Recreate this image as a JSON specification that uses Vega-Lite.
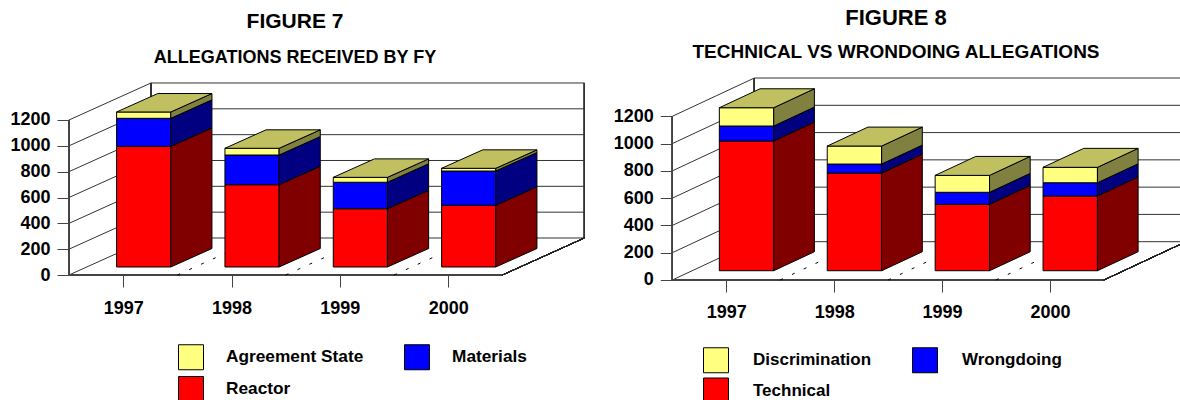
{"$schema":"https://vega.github.io/schema/vega-lite/v6.json","padding":0,"background":"white","spacing":0,"config":{"view":{"stroke":null},"font":"Liberation Sans"},"resolve":{"scale":{"color":"independent","fill":"independent"},"legend":{"color":"independent","fill":"independent"}},"hconcat":[
{"width":590,"height":400,
"title":{"text":"FIGURE 7","subtitle":"ALLEGATIONS RECEIVED BY FY","anchor":"middle","frame":"group","font":"Liberation Sans","fontSize":21,"fontWeight":"bold","subtitleFont":"Liberation Sans","subtitleFontSize":18,"subtitleFontWeight":"bold","subtitleColor":"#000","subtitlePadding":17,"offset":-67,"color":"#000"},
"data":{"values":[
{"year":"1997","series":"Reactor","value":934},{"year":"1997","series":"Materials","value":217},{"year":"1997","series":"Agreement State","value":49},
{"year":"1998","series":"Reactor","value":637},{"year":"1998","series":"Materials","value":230},{"year":"1998","series":"Agreement State","value":52},
{"year":"1999","series":"Reactor","value":451},{"year":"1999","series":"Materials","value":205},{"year":"1999","series":"Agreement State","value":38},
{"year":"2000","series":"Reactor","value":478},{"year":"2000","series":"Materials","value":265},{"year":"2000","series":"Agreement State","value":21}]},
"transform":[
{"calculate":"indexof(['Reactor','Materials','Agreement State'],datum.series)","as":"ord"},
{"stack":"value","groupby":["year"],"sort":[{"field":"ord","order":"ascending"}],"as":["lo","hi"]},
{"calculate":"toNumber(datum.year)-1997+0.4393","as":"x0"},
{"calculate":"datum.x0+0.5","as":"x1"},
{"calculate":"datum.lo+62","as":"ylo"},
{"calculate":"datum.hi+62","as":"yhi"}],
"layer":[
{"data":{"values":[{"v":0},{"v":200},{"v":400},{"v":600},{"v":800},{"v":1000},{"v":1200}]},
"transform":[{"calculate":"datum.v+286.5","as":"vb"},{"calculate":"0","as":"a"},{"calculate":"0.757","as":"b"}],
"mark":{"type":"rule","stroke":"#333","strokeWidth":1},
"encoding":{"x":{"field":"a","type":"quantitative","scale":{"domain":[-0.637,4.809],"nice":false,"zero":false},
"axis":{"title":null,"values":[0.5,1.5,2.5,3.5],"labelExpr":"format(datum.value+1996.5,'d')","domain":false,"grid":false,"offset":-125,"tickSize":12,"tickColor":"#444","labelPadding":12,"labelFont":"Liberation Sans","labelFontSize":18,"labelFontWeight":"bold","labelColor":"#000","labelFlush":false,"labelOverlap":false}},
"x2":{"field":"b"},
"y":{"field":"v","type":"quantitative","scale":{"domain":[-967.7,2129],"nice":false,"zero":false},
"axis":{"title":null,"values":[0,200,400,600,800,1000,1200],"format":"d","domain":false,"grid":false,"offset":-69,"tickSize":12,"tickColor":"#444","labelPadding":7,"labelFont":"Liberation Sans","labelFontSize":18,"labelFontWeight":"bold","labelColor":"#000","labelOverlap":false}},
"y2":{"field":"vb"}}},
{"data":{"values":[{"v":0},{"v":200},{"v":400},{"v":600},{"v":800},{"v":1000},{"v":1200}]},
"transform":[{"calculate":"datum.v+286.5","as":"vb"},{"calculate":"0.757","as":"a"},{"calculate":"4.757","as":"b"}],
"mark":{"type":"rule","stroke":"#333","strokeWidth":1},
"encoding":{"x":{"field":"a","type":"quantitative"},"x2":{"field":"b"},"y":{"field":"vb","type":"quantitative"}}},
{"mark":{"type":"rule","stroke":"#444","strokeWidth":1},"encoding":{"x":{"datum":0},"y":{"datum":0},"y2":{"datum":1200}}},
{"mark":{"type":"rule","stroke":"#333","strokeWidth":1},"encoding":{"x":{"datum":0.757},"y":{"datum":286.5},"y2":{"datum":1486.5}}},
{"mark":{"type":"rule","stroke":"#333","strokeWidth":1},"encoding":{"x":{"datum":4.757},"y":{"datum":286.5},"y2":{"datum":1486.5}}},
{"mark":{"type":"rule","stroke":"#444","strokeWidth":1},"encoding":{"x":{"datum":0},"x2":{"datum":4},"y":{"datum":0}}},
{"mark":{"type":"rule","stroke":"#222","strokeWidth":1},"encoding":{"x":{"datum":4},"x2":{"datum":4.757},"y":{"datum":0},"y2":{"datum":286.5}}},
{"data":{"values":[{"k":1},{"k":2},{"k":3}]},"transform":[{"calculate":"datum.k+0.757","as":"b"},{"calculate":"0","as":"v0"},{"calculate":"286.5","as":"v1"}],
"mark":{"type":"rule","stroke":"#000","strokeWidth":1,"strokeDash":[3,10]},
"encoding":{"x":{"field":"k","type":"quantitative"},"x2":{"field":"b"},"y":{"field":"v0","type":"quantitative"},"y2":{"field":"v1"}}},
{"mark":{"type":"rect","stroke":"#000","strokeWidth":1},
"encoding":{"x":{"field":"x0","type":"quantitative"},"x2":{"field":"x1"},"y":{"field":"ylo","type":"quantitative"},"y2":{"field":"yhi"},
"color":{"field":"series","type":"nominal","scale":{"domain":["Agreement State","Reactor","Materials"],"range":["#FFFF80","#FF0000","#0000FF"]},
"legend":{"orient":"none","legendX":178,"legendY":344,"columns":2,"title":null,"padding":0,"symbolType":"square","symbolSize":625,"symbolStrokeColor":"#000","symbolStrokeWidth":1,"labelFont":"Liberation Sans","labelFontSize":17.3,"labelFontWeight":"bold","labelColor":"#000","labelOffset":22,"columnPadding":38,"rowPadding":2,"labelLimit":0}}}},
{"transform":[{"calculate":"0","as":"t0"},{"calculate":"1","as":"t1"},{"fold":["t0","t1"],"as":["k","t"]},{"calculate":"datum.x1+datum.t*0.38","as":"xs"},{"calculate":"datum.ylo+datum.t*143","as":"s0"},{"calculate":"datum.yhi+datum.t*143","as":"s1"}],
"mark":{"type":"area","orient":"vertical","stroke":"#000","strokeWidth":1,"opacity":1},
"encoding":{"x":{"field":"xs","type":"quantitative"},"y":{"field":"s0","type":"quantitative","stack":null},"y2":{"field":"s1"},"detail":[{"field":"year"},{"field":"series"}],
"fill":{"field":"series","type":"nominal","legend":null,"scale":{"domain":["Agreement State","Materials","Reactor"],"range":["#808040","#000080","#800000"]}}}},
{"transform":[{"filter":"datum.ord==2"},{"calculate":"0","as":"t0"},{"calculate":"1","as":"t1"},{"fold":["t0","t1"],"as":["k","t"]},{"calculate":"datum.x0+datum.t*0.38","as":"ta"},{"calculate":"datum.x1+datum.t*0.38","as":"tb"},{"calculate":"datum.yhi+datum.t*143","as":"ty"}],
"mark":{"type":"area","orient":"horizontal","fill":"#C0C060","stroke":"#000","strokeWidth":1,"opacity":1},
"encoding":{"y":{"field":"ty","type":"quantitative"},"x":{"field":"ta","type":"quantitative","stack":null},"x2":{"field":"tb"},"detail":{"field":"year"}}}
]},
{"width":590,"height":400,
"title":{"text":"FIGURE 8","subtitle":"TECHNICAL VS WRONDOING ALLEGATIONS","anchor":"middle","frame":"group","dx":11,"font":"Liberation Sans","fontSize":22,"fontWeight":"bold","subtitleFont":"Liberation Sans","subtitleFontSize":19,"subtitleFontWeight":"bold","subtitleColor":"#000","subtitlePadding":13,"offset":-63,"color":"#000"},
"data":{"values":[
{"year":"1997","series":"Technical","value":951},{"year":"1997","series":"Wrongdoing","value":110},{"year":"1997","series":"Discrimination","value":134},
{"year":"1998","series":"Technical","value":716},{"year":"1998","series":"Wrongdoing","value":66},{"year":"1998","series":"Discrimination","value":132},
{"year":"1999","series":"Technical","value":487},{"year":"1999","series":"Wrongdoing","value":88},{"year":"1999","series":"Discrimination","value":124},
{"year":"2000","series":"Technical","value":548},{"year":"2000","series":"Wrongdoing","value":97},{"year":"2000","series":"Discrimination","value":113}]},
"transform":[
{"calculate":"indexof(['Technical','Wrongdoing','Discrimination'],datum.series)","as":"ord"},
{"stack":"value","groupby":["year"],"sort":[{"field":"ord","order":"ascending"}],"as":["lo","hi"]},
{"calculate":"toNumber(datum.year)-1997+0.4359","as":"x0"},
{"calculate":"datum.x0+0.504","as":"x1"},
{"calculate":"datum.lo+68","as":"ylo"},
{"calculate":"datum.hi+68","as":"yhi"}],
"layer":[
{"data":{"values":[{"v":0},{"v":200},{"v":400},{"v":600},{"v":800},{"v":1000},{"v":1200}]},
"transform":[{"calculate":"datum.v+280.8","as":"vb"},{"calculate":"0","as":"a"},{"calculate":"0.76","as":"b"}],
"mark":{"type":"rule","stroke":"#333","strokeWidth":1},
"encoding":{"x":{"field":"a","type":"quantitative","scale":{"domain":[-0.7627,4.705],"nice":false,"zero":false},
"axis":{"title":null,"values":[0.5,1.5,2.5,3.5],"labelExpr":"format(datum.value+1996.5,'d')","domain":false,"grid":false,"offset":-120,"tickSize":12,"tickColor":"#444","labelPadding":11,"labelFont":"Liberation Sans","labelFontSize":18,"labelFontWeight":"bold","labelColor":"#000","labelFlush":false,"labelOverlap":false}},
"x2":{"field":"b"},
"y":{"field":"v","type":"quantitative","scale":{"domain":[-879.8,2052.8],"nice":false,"zero":false},
"axis":{"title":null,"values":[0,200,400,600,800,1000,1200],"format":"d","domain":false,"grid":false,"offset":-82.3,"tickSize":12,"tickColor":"#444","labelPadding":7,"labelFont":"Liberation Sans","labelFontSize":18,"labelFontWeight":"bold","labelColor":"#000","labelOverlap":false}},
"y2":{"field":"vb"}}},
{"data":{"values":[{"v":0},{"v":200},{"v":400},{"v":600},{"v":800},{"v":1000},{"v":1200}]},
"transform":[{"calculate":"datum.v+280.8","as":"vb"},{"calculate":"0.76","as":"a"},{"calculate":"4.76","as":"b"}],
"mark":{"type":"rule","stroke":"#333","strokeWidth":1,"clip":true},
"encoding":{"x":{"field":"a","type":"quantitative"},"x2":{"field":"b"},"y":{"field":"vb","type":"quantitative"}}},
{"mark":{"type":"rule","stroke":"#444","strokeWidth":1},"encoding":{"x":{"datum":0},"y":{"datum":0},"y2":{"datum":1200}}},
{"mark":{"type":"rule","stroke":"#333","strokeWidth":1},"encoding":{"x":{"datum":0.76},"y":{"datum":280.8},"y2":{"datum":1480.8}}},
{"mark":{"type":"rule","stroke":"#444","strokeWidth":1},"encoding":{"x":{"datum":0},"x2":{"datum":4},"y":{"datum":0}}},
{"mark":{"type":"rule","stroke":"#222","strokeWidth":1,"clip":true},"encoding":{"x":{"datum":4},"x2":{"datum":4.76},"y":{"datum":0},"y2":{"datum":280.8}}},
{"data":{"values":[{"k":1},{"k":2},{"k":3}]},"transform":[{"calculate":"datum.k+0.76","as":"b"},{"calculate":"0","as":"v0"},{"calculate":"280.8","as":"v1"}],
"mark":{"type":"rule","stroke":"#000","strokeWidth":1,"strokeDash":[3,10]},
"encoding":{"x":{"field":"k","type":"quantitative"},"x2":{"field":"b"},"y":{"field":"v0","type":"quantitative"},"y2":{"field":"v1"}}},
{"mark":{"type":"rect","stroke":"#000","strokeWidth":1},
"encoding":{"x":{"field":"x0","type":"quantitative"},"x2":{"field":"x1"},"y":{"field":"ylo","type":"quantitative"},"y2":{"field":"yhi"},
"color":{"field":"series","type":"nominal","scale":{"domain":["Discrimination","Technical","Wrongdoing"],"range":["#FFFF80","#FF0000","#0000FF"]},
"legend":{"orient":"none","legendX":113,"legendY":347,"columns":2,"title":null,"padding":0,"symbolType":"square","symbolSize":625,"symbolStrokeColor":"#000","symbolStrokeWidth":1,"labelFont":"Liberation Sans","labelFontSize":17,"labelFontWeight":"bold","labelColor":"#000","labelOffset":24,"columnPadding":38,"rowPadding":0.5,"labelLimit":0}}}},
{"transform":[{"calculate":"0","as":"t0"},{"calculate":"1","as":"t1"},{"fold":["t0","t1"],"as":["k","t"]},{"calculate":"datum.x1+datum.t*0.377","as":"xs"},{"calculate":"datum.ylo+datum.t*139","as":"s0"},{"calculate":"datum.yhi+datum.t*139","as":"s1"}],
"mark":{"type":"area","orient":"vertical","stroke":"#000","strokeWidth":1,"opacity":1},
"encoding":{"x":{"field":"xs","type":"quantitative"},"y":{"field":"s0","type":"quantitative","stack":null},"y2":{"field":"s1"},"detail":[{"field":"year"},{"field":"series"}],
"fill":{"field":"series","type":"nominal","legend":null,"scale":{"domain":["Discrimination","Wrongdoing","Technical"],"range":["#808040","#000080","#800000"]}}}},
{"transform":[{"filter":"datum.ord==2"},{"calculate":"0","as":"t0"},{"calculate":"1","as":"t1"},{"fold":["t0","t1"],"as":["k","t"]},{"calculate":"datum.x0+datum.t*0.377","as":"ta"},{"calculate":"datum.x1+datum.t*0.377","as":"tb"},{"calculate":"datum.yhi+datum.t*139","as":"ty"}],
"mark":{"type":"area","orient":"horizontal","fill":"#C0C060","stroke":"#000","strokeWidth":1,"opacity":1},
"encoding":{"y":{"field":"ty","type":"quantitative"},"x":{"field":"ta","type":"quantitative","stack":null},"x2":{"field":"tb"},"detail":{"field":"year"}}}
]}
]}
